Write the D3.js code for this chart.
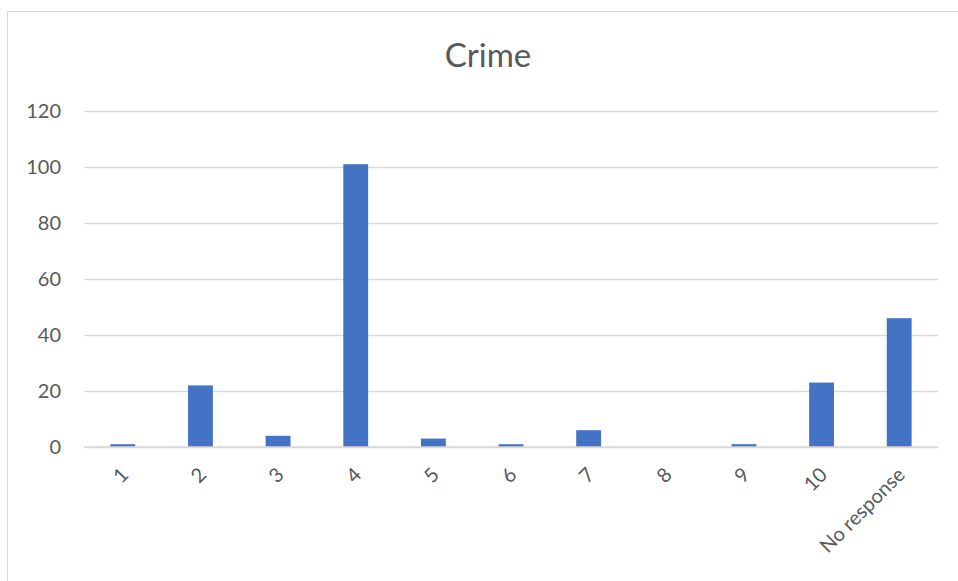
<!DOCTYPE html>
<html><head><meta charset="utf-8">
<script src="https://cdn.jsdelivr.net/npm/d3@7"></script>
<style>body{margin:0;background:#fff;}svg{display:block;font-family:Lato,"Open Sans",sans-serif;}</style>
</head><body><svg id="c" width="958" height="581"></svg>
<script>
const categories = ["1","2","3","4","5","6","7","8","9","10","No response"];
const values = [1,22,4,101,3,1,6,0,1,23,46];
const yTicks = [0,20,40,60,80,100,120];
const title = "Crime";

const svg = d3.select("#c");
svg.append("rect").attr("x",7.5).attr("y",11.5).attr("width",960).attr("height",580)
  .attr("fill","#fff").attr("stroke","#d9d9d9");
const m = {l:84, r:938, t:111, b:447};
const x = d3.scaleBand().domain(categories).range([m.l,m.r]).paddingInner(0.68).paddingOuter(0.34);
const y = d3.scaleLinear().domain([0,120]).range([m.b,m.t]);

svg.append("text").attr("x",488).attr("y",67).attr("text-anchor","middle")
  .attr("font-size",33).attr("fill","#595959").text(title);

const ya = svg.append("g").attr("transform",`translate(${m.l},0)`)
  .call(d3.axisLeft(y).tickValues(yTicks).tickSize(-(m.r-m.l)).tickPadding(23));
ya.select(".domain").remove();
ya.selectAll(".tick line").attr("stroke","#d9d9d9").attr("stroke-width",1.3);
ya.selectAll(".tick text").attr("fill","#595959").attr("font-size",20).attr("font-family","Lato,'Open Sans',sans-serif");

svg.append("g").selectAll("rect").data(values).join("rect")
  .attr("x",(d,i)=>x(categories[i])).attr("width",x.bandwidth())
  .attr("y",d=>y(d)).attr("height",d=>y(0)-y(d)).attr("fill","#4472c4");

svg.append("line").attr("x1",m.l).attr("x2",m.r).attr("y1",y(0)).attr("y2",y(0))
  .attr("stroke","#d9d9d9").attr("stroke-width",1.3);

const xa = svg.append("g").attr("transform",`translate(0,${m.b})`)
  .call(d3.axisBottom(x).tickSize(0).tickPadding(0));
xa.select(".domain").remove();
xa.selectAll(".tick text").attr("fill","#595959").attr("font-size",20)
  .attr("font-family","Lato,'Open Sans',sans-serif")
  .attr("text-anchor","end").attr("dy",0)
  .attr("transform","translate(7,29) rotate(-45)");
</script></body></html>
